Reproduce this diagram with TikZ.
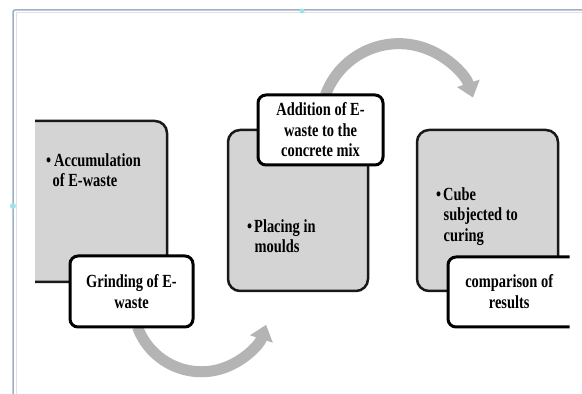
\documentclass[tikz,border=0pt]{standalone}
\usepackage{fontspec}
\setmainfont[FakeStretch=0.78]{Liberation Serif}
\usetikzlibrary{arrows.meta}
\definecolor{boxgray}{HTML}{D4D4D4}
\definecolor{arrowgray}{HTML}{B4B4B4}
\definecolor{framecol}{HTML}{9DB0C4}
\newcommand\txtfont{\fontsize{18.5}{20.5}\selectfont\bfseries}
\begin{document}
\begin{tikzpicture}[x=1pt,y=1pt,
  graybox/.style={draw=black!90, line width=2.5pt, fill=boxgray, rounded corners=12pt, anchor=south west, inner sep=0pt, outer sep=0pt},
  whiteframe/.style={draw=black, line width=3pt, fill=white, rounded corners=8pt},
  whitebox/.style={whiteframe, align=center, font=\txtfont, anchor=south west, inner sep=0pt, outer sep=0pt},
  bodytext/.style={align=left, font=\txtfont, anchor=north west, inner sep=0pt},
  flow/.style={draw=arrowgray, line width=11pt, -{Triangle[width=23pt,length=15pt]}}
]
\useasboundingbox (0,0) rectangle (582,394);
\fill[white] (0,0) rectangle (582,394);
% frame
\draw[black!12, line width=1pt] (16,0) -- (16,381) -- (582,381);
\draw[framecol, line width=1.5pt, rounded corners=2pt] (13,0) -- (13,384) -- (582,384);
\fill[framecol!60!cyan!60] (302,383) circle (2.5);
\fill[framecol!60!cyan!60] (13,188) circle (3);

% anchors for the arrows (white boxes drawn later on top)
\coordinate (grindS) at (131.5,67);
\coordinate (addN) at (320.5,299);
\draw[flow] ([xshift=6pt]grindS) arc[start angle=200, end angle=342, radius=68];
\draw[flow] ([xshift=5pt]addN) arc[start angle=160, end angle=18, radius=78];

% gray boxes
\begin{scope}
  \clip (35,0) rectangle (582,394);
  \node[graybox, minimum width=147pt, minimum height=161pt] (box1) at (20,112) {};
\end{scope}
\node[graybox, minimum width=140pt, minimum height=161pt] (box2) at (228,103) {};
\node[graybox, minimum width=141pt, minimum height=161pt] (box3) at (417,103) {};

% white boxes
\node[whitebox, minimum width=123pt, minimum height=71pt] (grind) at (70,67) {Grinding of E-\\waste};
\node[whitebox, minimum width=125pt, minimum height=70pt] (add) at (258,229) {Addition of E-\\waste to the\\concrete mix};
\begin{scope}
  \clip (0,0) rectangle (569.5,394);
  \draw[whiteframe] (448,67) rectangle (592,137);
\end{scope}
\node[align=center, font=\txtfont, inner sep=0pt, minimum width=122pt, minimum height=70pt, anchor=south west] (comp) at (448,67) {comparison of\\results};

% body texts
\node[bodytext] (t1) at (46,241) {\makebox[8pt][l]{•}Accumulation\\\hspace*{6.5pt}of E-waste};
\node[bodytext] (t2) at (247,175) {\makebox[7pt][l]{•}Placing in\\\hspace*{7.5pt}moulds};
\node[bodytext] (t3) at (436,207) {\makebox[7pt][l]{•}Cube\\\hspace*{7.5pt}subjected to\\\hspace*{7.5pt}curing};
\end{tikzpicture}
\end{document}
